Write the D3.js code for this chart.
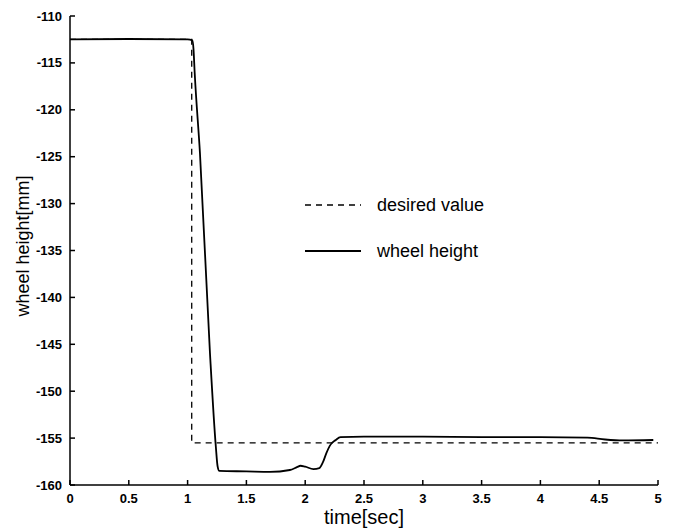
<!DOCTYPE html>
<html><head><meta charset="utf-8">
<script src="https://cdn.jsdelivr.net/npm/d3@7"></script>
</head>
<body style="margin:0;background:#fff;"><svg id="c" width="676" height="529"></svg>
<script>
const xTicks = [0,0.5,1,1.5,2,2.5,3,3.5,4,4.5,5];
const xTickLabels = ["0","0.5","1","1.5","2","2.5","3","3.5","4","4.5","5"];
const yTicks = [-110,-115,-120,-125,-130,-135,-140,-145,-150,-155,-160];
const yTickLabels = ["-110","-115","-120","-125","-130","-135","-140","-145","-150","-155","-160"];
const desiredT = [0, 1.035, 1.035, 5];
const desiredV = [-112.5, -112.5, -155.5, -155.5];
const wheelT = [0, 0.5, 1.0, 1.04, 1.05, 1.06, 1.105, 1.19, 1.24, 1.255, 1.27, 1.5, 1.7, 1.87, 1.93, 1.96, 2.0, 2.07, 2.12, 2.15, 2.18, 2.21, 2.26, 2.30, 2.5, 3.0, 3.5, 4.0, 4.4, 4.55, 4.7, 4.96];
const wheelV = [-112.5, -112.45, -112.5, -112.6, -113.5, -116, -124.6, -145.9, -155.9, -158.0, -158.5, -158.55, -158.6, -158.4, -158.1, -157.95, -158.05, -158.3, -158.2, -157.6, -156.6, -155.8, -155.2, -154.9, -154.85, -154.85, -154.9, -154.9, -154.95, -155.15, -155.25, -155.2];
const legendLabels = ["desired value", "wheel height"];
const xLabel = "time[sec]";
const yLabel = "wheel height[mm]";

const FONT = "Liberation Sans, Arial, sans-serif";
const svg = d3.select("#c");
const x = d3.scaleLinear().domain([0,5]).range([70,658]);
const y = d3.scaleLinear().domain([-160,-110]).range([485,16]);

// axis frame first (left + bottom) with inward ticks
svg.append("line").attr("x1",x(0)).attr("x2",x(0)).attr("y1",y(-110)).attr("y2",y(-160)).attr("stroke","#000").attr("stroke-width",1.5);
svg.append("line").attr("x1",x(0)).attr("x2",x(5)).attr("y1",y(-160)).attr("y2",y(-160)).attr("stroke","#000").attr("stroke-width",1.5);
xTicks.forEach(t => {
  svg.append("line").attr("x1",x(t)).attr("x2",x(t)).attr("y1",y(-160)).attr("y2",y(-160)-5).attr("stroke","#000").attr("stroke-width",1.5);
});
yTicks.forEach(v => {
  svg.append("line").attr("x1",x(0)).attr("x2",x(0)+5).attr("y1",y(v)).attr("y2",y(v)).attr("stroke","#000").attr("stroke-width",1.5);
});

// tick labels from the scales
xTicks.forEach((t,i) => {
  svg.append("text").attr("x",x(t)).attr("y",y(-160)+18).attr("text-anchor","middle")
    .attr("font-family",FONT).attr("font-size",13).attr("font-weight","bold").text(xTickLabels[i]);
});
yTicks.forEach((v,i) => {
  svg.append("text").attr("x",x(0)-8).attr("y",y(v)+4.5).attr("text-anchor","end")
    .attr("font-family",FONT).attr("font-size",13).attr("font-weight","bold").text(yTickLabels[i]);
});

const line = d3.line().x(d=>x(d[0])).y(d=>y(d[1]));
svg.append("path").datum(desiredT.map((t,i)=>[t,desiredV[i]]))
  .attr("d",line).attr("fill","none").attr("stroke","#000").attr("stroke-width",1.3).attr("stroke-dasharray","6,5");
svg.append("path").datum(wheelT.map((t,i)=>[t,wheelV[i]]))
  .attr("d",d3.line().x(d=>x(d[0])).y(d=>y(d[1])).curve(d3.curveMonotoneX)).attr("fill","none").attr("stroke","#000").attr("stroke-width",1.8);

svg.append("line").attr("x1",305).attr("x2",361).attr("y1",205).attr("y2",205).attr("stroke","#000").attr("stroke-width",1.3).attr("stroke-dasharray","6,5");
svg.append("line").attr("x1",305).attr("x2",361).attr("y1",251).attr("y2",251).attr("stroke","#000").attr("stroke-width",1.8);
svg.append("text").attr("x",377).attr("y",211).attr("font-family",FONT).attr("font-size",18).text(legendLabels[0]);
svg.append("text").attr("x",377).attr("y",257).attr("font-family",FONT).attr("font-size",18).text(legendLabels[1]);

svg.append("text").attr("x",364).attr("y",524).attr("text-anchor","middle").attr("font-family",FONT).attr("font-size",20).text(xLabel);
svg.append("text").attr("transform","translate(29,246) rotate(-90)").attr("text-anchor","middle").attr("font-family",FONT).attr("font-size",18).text(yLabel);
</script></body></html>
